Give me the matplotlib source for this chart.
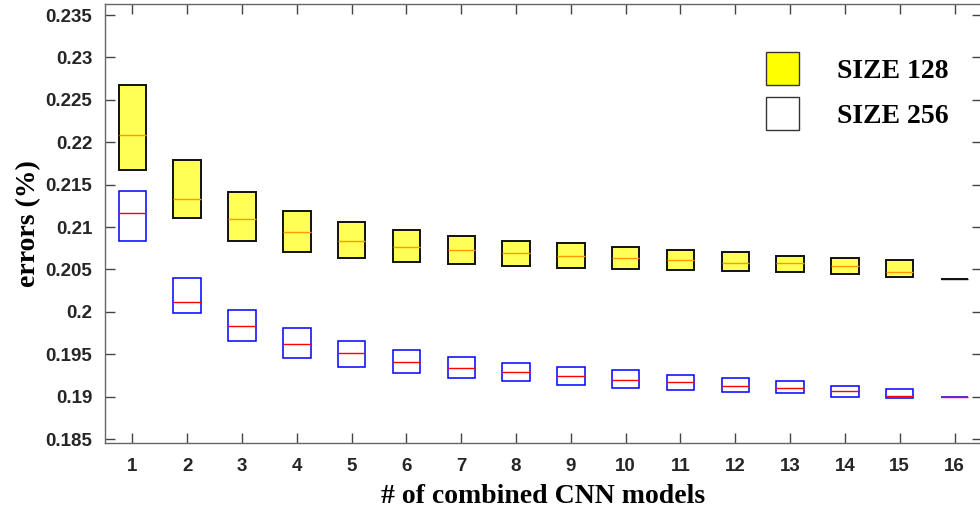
import matplotlib
matplotlib.use('Agg')
import matplotlib.pyplot as plt
from matplotlib.patches import Patch
from matplotlib.ticker import FuncFormatter
import numpy as np

n_models = list(range(1, 17))

# SIZE 128 error quartiles per number of combined models
q3_128 = [0.2267, 0.2179, 0.2141, 0.2119, 0.2106, 0.2097, 0.2090, 0.2084,
          0.2081, 0.2076, 0.2073, 0.2070, 0.2066, 0.2063, 0.2061, 0.2039]
med_128 = [0.2209, 0.2133, 0.2110, 0.2094, 0.2084, 0.2077, 0.2073, 0.2069,
           0.2066, 0.2063, 0.2061, 0.2058, 0.2058, 0.2054, 0.2047, 0.2039]
q1_128 = [0.2167, 0.2111, 0.2084, 0.2071, 0.2064, 0.2059, 0.2056, 0.2054,
          0.2052, 0.2050, 0.2049, 0.2048, 0.2047, 0.2045, 0.2041, 0.2039]

# SIZE 256 error quartiles
q3_256 = [0.2142, 0.2040, 0.2002, 0.1981, 0.1966, 0.1955, 0.1947, 0.1940,
          0.1935, 0.1931, 0.1926, 0.1922, 0.1918, 0.1913, 0.1909, 0.1900]
med_256 = [0.2117, 0.2012, 0.1983, 0.1962, 0.1951, 0.1941, 0.1934, 0.1929,
           0.1924, 0.1920, 0.1917, 0.1913, 0.1910, 0.1907, 0.1901, 0.1900]
q1_256 = [0.2084, 0.1999, 0.1966, 0.1946, 0.1935, 0.1928, 0.1922, 0.1918,
          0.1914, 0.1910, 0.1908, 0.1905, 0.1904, 0.1899, 0.1898, 0.1900]

y_ticks = [0.185, 0.19, 0.195, 0.2, 0.205, 0.21, 0.215, 0.22, 0.225, 0.23, 0.235]
legend_labels = ['SIZE 128', 'SIZE 256']

SERIF = 'Liberation Serif'
SANS = 'Liberation Sans'


def make_stats(q1, med, q3):
    # no whiskers: they collapse onto the box edges
    return [{'q1': a, 'med': m, 'q3': b, 'whislo': a, 'whishi': b, 'fliers': []}
            for a, m, b in zip(q1, med, q3)]


fig = plt.figure(figsize=(9.8, 5.07), dpi=100)
ax = fig.add_axes([0.1071, 0.1262, 0.8949, 0.8659])

bp128 = ax.bxp(make_stats(q1_128, med_128, q3_128), positions=n_models,
               widths=0.5, patch_artist=True, showcaps=False,
               boxprops=dict(facecolor='#ffff55', edgecolor='#111111', linewidth=1.4),
               medianprops=dict(color='#ff9900', linewidth=1.0),
               whiskerprops=dict(linewidth=0))
bp128['medians'][-1].set_color('#111111')

bp256 = ax.bxp(make_stats(q1_256, med_256, q3_256), positions=n_models,
               widths=0.5, patch_artist=True, showcaps=False,
               boxprops=dict(facecolor='white', edgecolor='#0000ff', linewidth=1.1),
               medianprops=dict(color='#ff0000', linewidth=1.0),
               whiskerprops=dict(linewidth=0))

ax.set_xlim(0.5, 16.5)
ax.set_ylim(0.18453, 0.2363)
ax.set_xticks(n_models)
ax.set_xticklabels([str(n) for n in n_models])
ax.set_yticks(y_ticks)
ax.yaxis.set_major_formatter(FuncFormatter(lambda v, p: '%g' % v))

for s in ax.spines.values():
    s.set_color('#666666')
    s.set_linewidth(1.0)
ax.tick_params(direction='in', length=7, width=1, color='#444444',
               top=True, right=True, labelsize=13.5, labelcolor='#262626')
ax.tick_params(axis='x', pad=11)
ax.tick_params(axis='y', pad=9)
for lbl in ax.get_xticklabels() + ax.get_yticklabels():
    lbl.set_fontfamily(SANS)
    lbl.set_fontweight('bold')

ax.set_xlabel('# of combined CNN models', fontfamily=SERIF, fontweight='bold',
              fontsize=20, labelpad=6)
ax.set_ylabel('errors (%)', fontfamily=SERIF, fontweight='bold', fontsize=20,
              labelpad=3)

handles = [Patch(facecolor='#ffff00', edgecolor='#333333', linewidth=1.0),
           Patch(facecolor='white', edgecolor='#333333', linewidth=1.0)]
ax.legend(handles, legend_labels, loc='upper right', bbox_to_anchor=(0.99, 0.948),
          frameon=False, handlelength=1.2, handleheight=1.45, handletextpad=1.35,
          labelspacing=0.45, prop=dict(family=SERIF, weight='bold', size=20))

fig.savefig('out.png', dpi=100)
